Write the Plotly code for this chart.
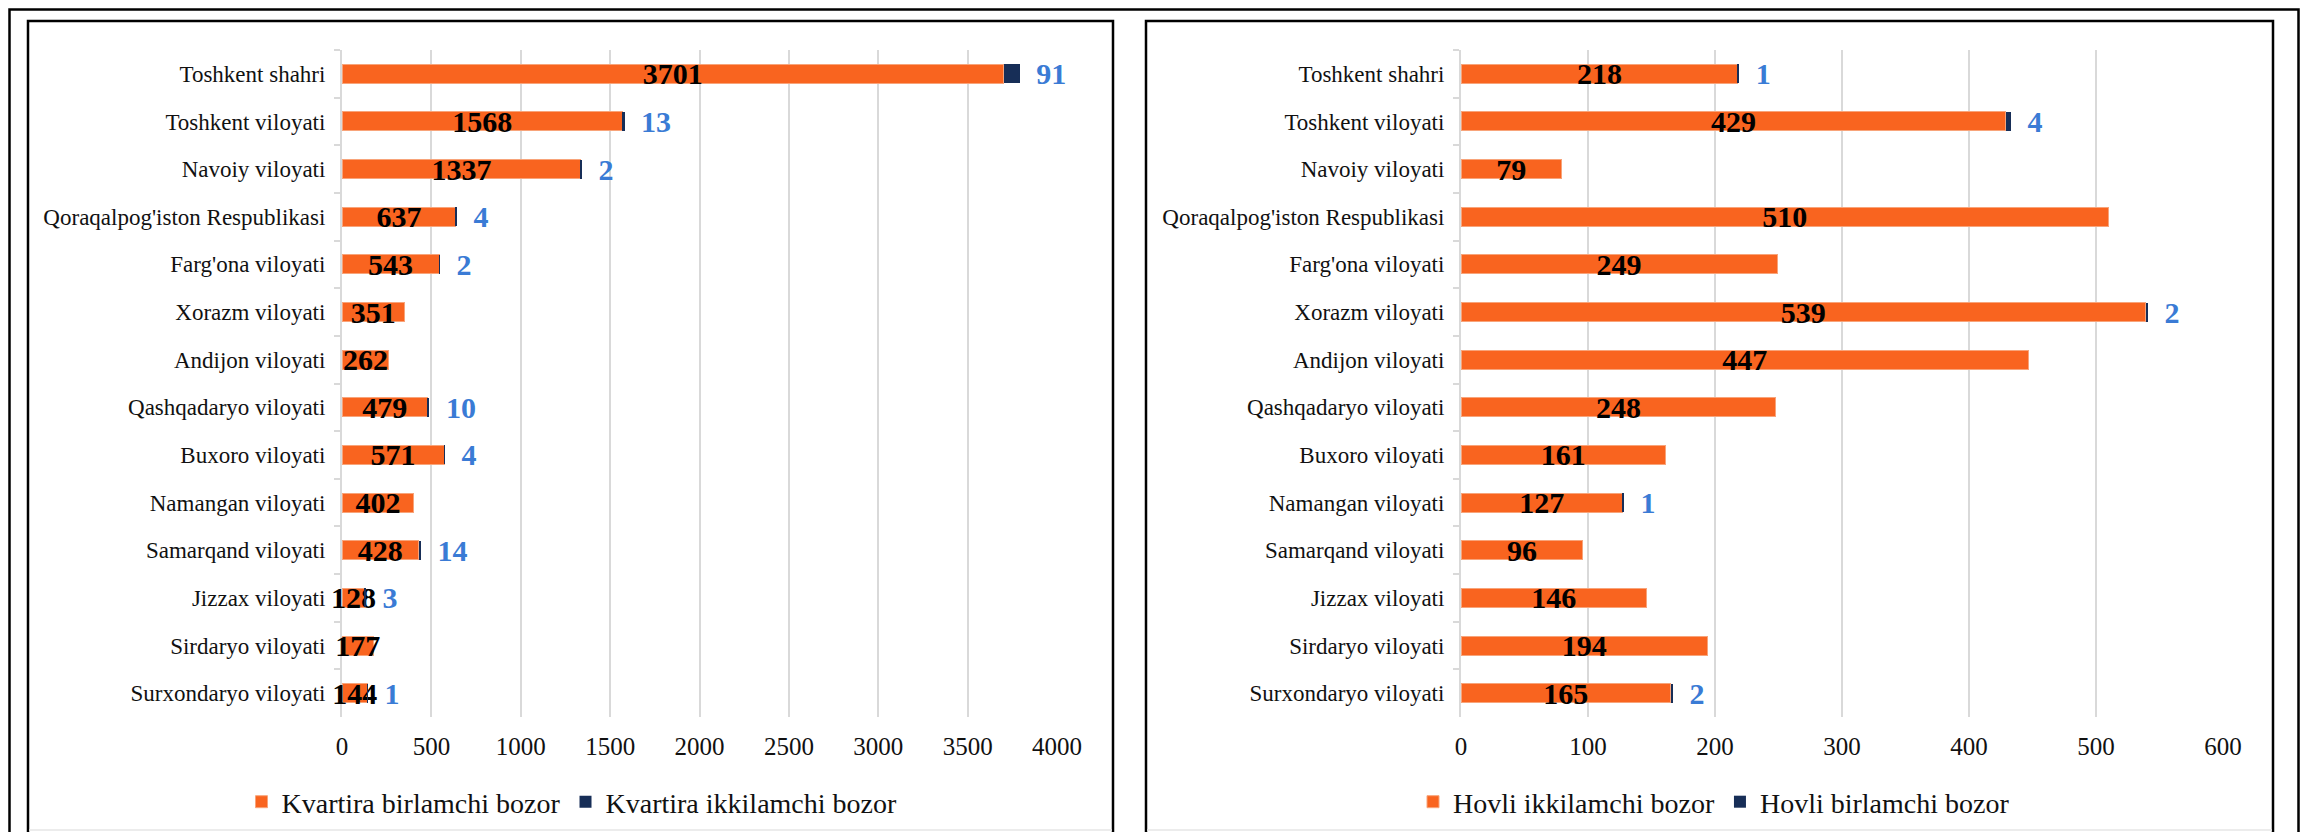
import plotly.graph_objects as go

# regions, top to bottom
regions = [
    "Toshkent shahri", "Toshkent viloyati", "Navoiy viloyati",
    "Qoraqalpog'iston Respublikasi", "Farg'ona viloyati", "Xorazm viloyati",
    "Andijon viloyati", "Qashqadaryo viloyati", "Buxoro viloyati",
    "Namangan viloyati", "Samarqand viloyati", "Jizzax viloyati",
    "Sirdaryo viloyati", "Surxondaryo viloyati",
]

# left chart: apartments
kv_birlamchi = [3701, 1568, 1337, 637, 543, 351, 262, 479, 571, 402, 428, 128, 177, 144]
kv_ikkilamchi = [91, 13, 2, 4, 2, 0, 0, 10, 4, 0, 14, 3, 0, 1]

# right chart: houses
hv_ikkilamchi = [218, 429, 79, 510, 249, 539, 447, 248, 161, 127, 96, 146, 194, 165]
hv_birlamchi = [1, 4, 0, 0, 0, 2, 0, 0, 0, 1, 0, 0, 0, 2]

left_names = ["Kvartira birlamchi bozor", "Kvartira ikkilamchi bozor"]
right_names = ["Hovli ikkilamchi bozor", "Hovli birlamchi bozor"]

# the page body has an 8px margin, so the figure is made smaller and
# all page positions are shifted by it
PAGE_OFF = 8
W, H = 2308 - 2 * PAGE_OFF, 840 - 2 * PAGE_OFF
ORANGE = '#F9641F'
NAVY = '#172E57'
BLUE = '#3A7BD5'
GRID = '#D9D9D9'
FONT = 'Liberation Serif'


def px_x(p):
    return (p - PAGE_OFF) / W


def px_y(p):
    return 1 - (p - PAGE_OFF) / H


def blue_text(vals):
    # small gap between bar end and label, like Excel
    return ['\u00a0\u2009' + str(v) if v else '' for v in vals]


fig = go.Figure()


def add_pair(main, extra, names, xa, ya, legend):
    fig.add_trace(go.Bar(
        y=regions, x=main, orientation='h', name=names[0],
        marker=dict(color=ORANGE, line=dict(color='#F8A47A', width=1)),
        text=[str(v) for v in main], textposition='inside',
        insidetextanchor='middle', textangle=0, constraintext='none',
        textfont=dict(family=FONT, size=30, color='black', weight='bold'),
        xaxis=xa, yaxis=ya, legend=legend, cliponaxis=False,
    ))
    fig.add_trace(go.Bar(
        y=regions, x=extra, orientation='h', name=names[1],
        marker=dict(color=NAVY, line=dict(width=0)),
        text=blue_text(extra), textposition='outside', textangle=0,
        constraintext='none',
        textfont=dict(family=FONT, size=30, color=BLUE, weight='bold'),
        xaxis=xa, yaxis=ya, legend=legend, cliponaxis=False,
    ))


add_pair(kv_birlamchi, kv_ikkilamchi, left_names, 'x', 'y', 'legend')
add_pair(hv_ikkilamchi, hv_birlamchi, right_names, 'x2', 'y2', 'legend2')

xcommon = dict(showgrid=True, gridcolor=GRID, gridwidth=1.5, zeroline=False,
               showline=False, ticks='', ticklabelstandoff=12, automargin=False,
               tickfont=dict(family=FONT, size=25, color='#111'))
ycommon = dict(categoryorder='array', categoryarray=regions, autorange='reversed',
               showgrid=False, showline=True, linecolor=GRID, linewidth=2,
               ticks='outside', tickson='boundaries', ticklen=6, tickcolor=GRID,
               tickwidth=2, ticklabelstandoff=10, automargin=False,
               layer='below traces',
               tickfont=dict(family=FONT, size=23, color='#111'),
               domain=[px_y(717), px_y(50)])

legcommon = dict(orientation='h', xanchor='center', yanchor='middle',
                 traceorder='normal', y=px_y(802),
                 font=dict(family=FONT, size=28, color='#111'),
                 bgcolor='rgba(0,0,0,0)')

fig.update_layout(
    width=W, height=H, autosize=False,
    margin=dict(l=0, r=0, t=0, b=0, autoexpand=False),
    paper_bgcolor='white', plot_bgcolor='white',
    barmode='stack', bargap=0.6,
    xaxis=dict(domain=[px_x(342), px_x(1057)], range=[0, 4000], dtick=500,
               anchor='y', **xcommon),
    yaxis=dict(anchor='x', **ycommon),
    xaxis2=dict(domain=[px_x(1461), px_x(2223)], range=[0, 600], dtick=100,
                anchor='y2', **xcommon),
    yaxis2=dict(anchor='x2', **ycommon),
    legend=dict(x=px_x(572), **legcommon),
    legend2=dict(x=px_x(1714), **legcommon),
)

# frames around the picture and the two panels
frames = [
    (9.5, 9.5, 2298.5, 900, 2.5),
    (28, 21, 1113, 900, 2.5),
    (1146, 21, 2273, 900, 2.5),
]
for x0, y0, x1, y1, w in frames:
    fig.add_shape(type='rect', xref='paper', yref='paper',
                  x0=px_x(x0), x1=px_x(x1), y0=px_y(y1), y1=px_y(y0),
                  line=dict(color='black', width=w), fillcolor='rgba(0,0,0,0)')
for x0, x1 in [(29, 1112), (1147, 2272)]:
    fig.add_shape(type='line', xref='paper', yref='paper',
                  x0=px_x(x0), x1=px_x(x1), y0=px_y(830), y1=px_y(830),
                  line=dict(color='#E6E6E6', width=1.5))

fig.write_html("out.html")
